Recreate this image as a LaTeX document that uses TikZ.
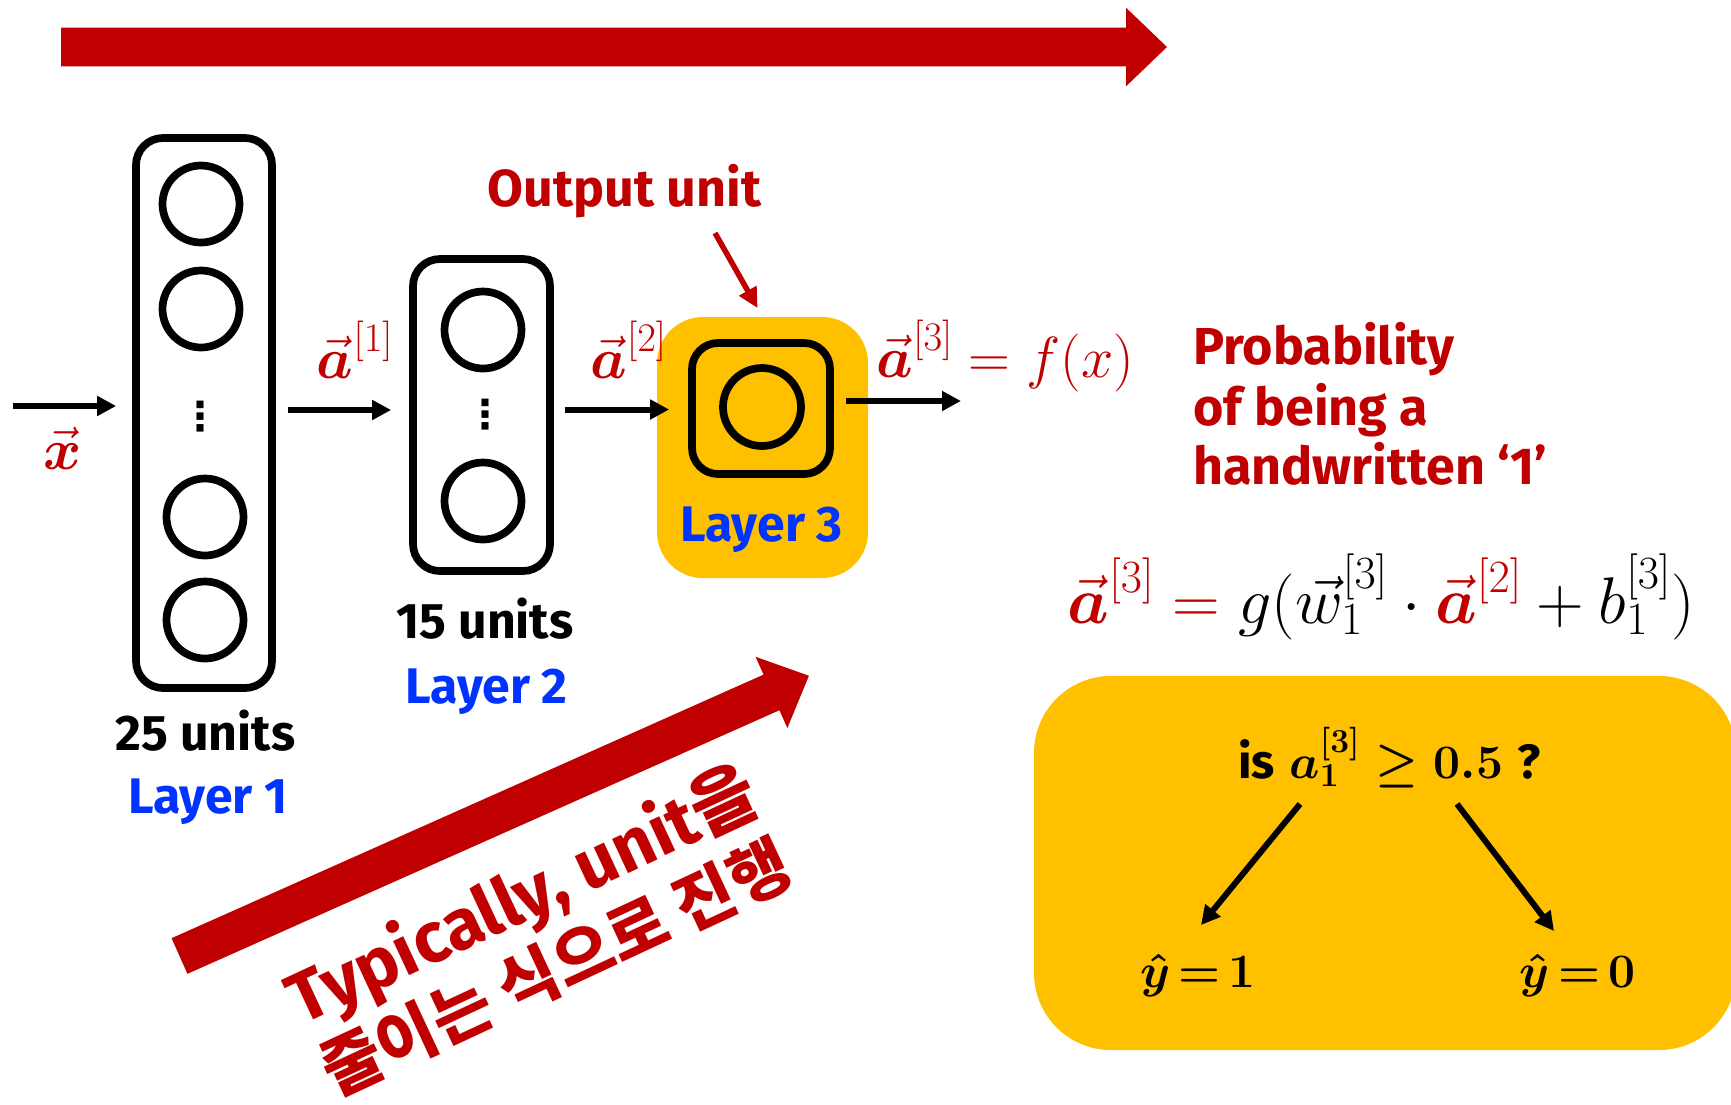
\RequirePackage{fix-cm}
\documentclass[tikz,border=0pt]{standalone}
\usepackage{amsmath}
\usepackage[no-math]{fontspec}
\newfontfamily\disp{Fira Sans}
\newfontfamily\kr{Noto Sans CJK KR}
\newfontfamily\dv{DejaVu Sans}
\usetikzlibrary{arrows.meta,calc}
\definecolor{dred}{HTML}{C00000}
\definecolor{gold}{HTML}{FFC000}
\definecolor{lblue}{HTML}{0033FF}
\newcommand\mathsz{\fontsize{58}{70}\selectfont}
\tikzset{
  layerbox/.style={draw=black, line width=7.7pt, rounded corners=27pt, inner sep=0pt},
  unitc/.style={circle, draw=black, line width=7.7pt, minimum size=77pt, inner sep=0pt},
  arr/.style={draw=black, line width=6pt, -{Triangle[length=19pt,width=19pt]}},
  redarr/.style={draw=dred, line width=5.5pt, -{Triangle[length=20pt,width=19pt]}},
  lbl/.style={font=\disp\bfseries\fontsize{50}{60}\selectfont, inner sep=0pt, anchor=base},
  redlbl/.style={font=\disp\bfseries\fontsize{52}{60}\selectfont, text=dred, inner sep=0pt},
  mlbl/.style={font=\mathsz, text=dred, inner sep=0pt, anchor=base},
  dotsl/.style={font=\dv\bfseries\fontsize{40}{40}\selectfont, inner sep=0pt},
  yhat/.style={font=\fontsize{48}{58}\selectfont, inner sep=0pt, anchor=base},
  diag/.style={rotate=25, text=dred, inner sep=0pt, anchor=base},
}
\begin{document}
\begin{tikzpicture}[x=1pt,y=-1pt]
\useasboundingbox (0,0) rectangle (1731,1104);
% big red arrows
\fill[dred] (61,27.6) -- (1126,27.6) -- (1126,7.7) -- (1167,47) -- (1126,86.3) -- (1126,66.4) -- (61,66.4) -- cycle;
\begin{scope}[shift={(179.5,956)}, rotate=24]
\fill[dred] (0,-19.5) -- (648,-19.5) -- (648,-39) -- (689,0) -- (648,39) -- (648,19.5) -- (0,19.5) -- cycle;
\end{scope}
% layer 1
\node[layerbox, minimum width=136pt, minimum height=550pt] (L1) at (204,413) {};
\node[unitc] (c11) at (201,204) {};
\node[unitc] (c12) at (201,309) {};
\node[dotsl] (d1) at (200,417) {⋮};
\node[unitc] (c13) at (205,517) {};
\node[unitc] (c14) at (205,620) {};
% layer 2
\node[layerbox, minimum width=137pt, minimum height=312pt] (L2) at (481.5,415) {};
\node[unitc] (c21) at (483,330) {};
\node[dotsl] (d2) at (485,414.5) {⋮};
\node[unitc] (c22) at (483,501) {};
% layer 3
\node[fill=gold, rounded corners=46pt, minimum width=211pt, minimum height=261pt, inner sep=0pt] (L3) at (762.5,447.5) {};
\node[layerbox, rounded corners=26pt, minimum width=138pt, minimum height=131pt] (U3) at (761,408.5) {};
\node[unitc, minimum size=78pt] (c31) at (762,407) {};
% labels
\node[lbl] (n1) at (205.5,750) {25 units};
\node[lbl, text=lblue] (ly1) at (208,813) {Layer 1};
\node[lbl] (n2) at (485,638) {15 units};
\node[lbl, text=lblue] (ly2) at (486.5,703) {Layer 2};
\node[lbl, text=lblue] (ly3) at (761.5,541) {Layer 3};
\node[redlbl, anchor=base] (outu) at (624.5,206) {Output unit};
% math labels
\node[mlbl] (xl) at (62.5,469) {$\vec{\boldsymbol{x}}$};
\node[mlbl] (a1l) at (355,378) {$\vec{\boldsymbol{a}}^{[1]}$};
\node[mlbl] (a2l) at (628.5,378) {$\vec{\boldsymbol{a}}^{[2]}$};
\node[mlbl] (a3l) at (1005.5,377) {$\vec{\boldsymbol{a}}^{[3]} = f(x)$};
% probability text
\node[redlbl, anchor=base west] (p1) at (1193,364) {Probability};
\node[redlbl, anchor=base west] (p2) at (1193,425) {of being a};
\node[redlbl, anchor=base west] (p3) at (1193,484) {handwritten ‘1’};
% formula
\node[font=\fontsize{66}{80}\selectfont, inner sep=0pt, anchor=base] (eq) at (1381,623)
  {$\color{dred}\vec{\boldsymbol{a}}^{[3]} = \color{black} g(\vec{w}_1^{[3]}\cdot\textcolor{dred}{\vec{\boldsymbol{a}}^{[2]}} + b_1^{[3]})$};
% decision box
\node[fill=gold, rounded corners=77pt, minimum width=702pt, minimum height=374pt, inner sep=0pt] (DB) at (1385,863) {};
\node[font=\fontsize{48}{58}\selectfont, inner sep=0pt, anchor=base] (q) at (1389.5,778)
  {{\disp\bfseries is} $\boldsymbol{a_1^{[3]} \geq 0.5}$ {\disp\bfseries ?}};
\node[yhat] (y1) at (1198,987) {$\thickmuskip=3mu\boldsymbol{\hat{y}} \boldsymbol{=} \mathbf{1}$};
\node[yhat] (y0) at (1577.5,987) {$\thickmuskip=3mu\boldsymbol{\hat{y}} \boldsymbol{=} \mathbf{0}$};
% diagonal text
\node[diag, font=\disp\bfseries\fontsize{71}{80}\selectfont] (t1) at (533,918) {Typically, unit{\kr\bfseries 을}};
\node[diag, font=\kr\bfseries\fontsize{65}{75}\selectfont] (t2) at (566,989) {줄이는 식으로 진행};
% connectors
\coordinate (xin) at (12.6,406);
\draw[arr, shorten >=16pt] (xin) -- (xin -| L1.west);
\coordinate (ya) at (0,410);
\draw[arr, shorten <=12pt, shorten >=18pt] (ya -| L1.east) -- (ya -| L2.west);
\coordinate (yb) at (0,409.5);
\draw[arr, shorten <=11pt, shorten >=19pt] (yb -| L2.east) -- (yb -| U3.west);
\coordinate (out3) at (961,401);
\draw[arr, shorten <=12.6pt] (out3 -| U3.east) -- (out3);
\coordinate (ptr) at (715,233);
\draw[redarr, shorten >=10pt] (ptr) -- (L3.north);
\coordinate (d1s) at (1300,804);
\coordinate (d1e) at (1201,925);
\coordinate (d0s) at (1457,804);
\coordinate (d0e) at (1554,931);
\draw[arr] (d1s) -- (d1e);
\draw[arr] (d0s) -- (d0e);
\end{tikzpicture}
\end{document}
